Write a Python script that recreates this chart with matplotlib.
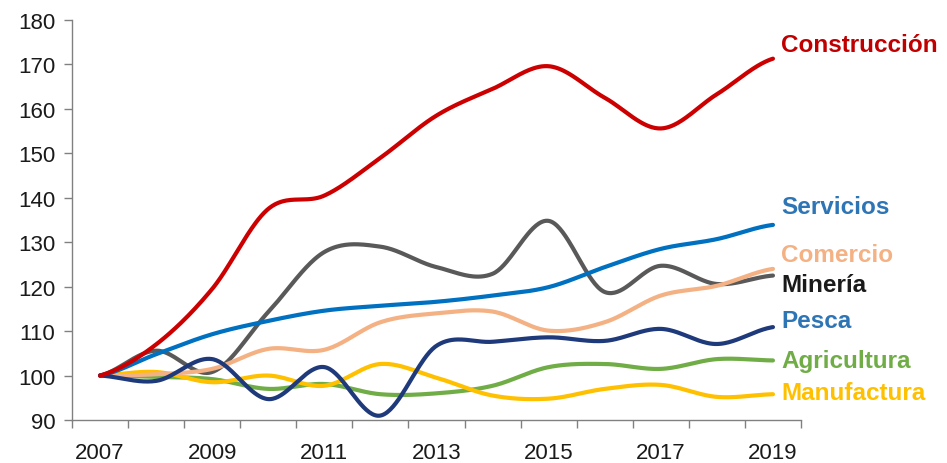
import numpy as np
import matplotlib
matplotlib.use("Agg")
import matplotlib.pyplot as plt
from matplotlib.ticker import FixedLocator, NullFormatter

plt.rcParams['font.family'] = ['Liberation Sans', 'DejaVu Sans']

years = list(range(2007, 2020))
tick_years = ["2007", "2009", "2011", "2013", "2015", "2017", "2019"]

construccion = [100, 107, 119.5, 137.5, 140.5, 149, 158.5, 164.5, 169.6, 162.5, 155.6, 163.3, 171.3]
servicios = [100, 104.8, 109.3, 112.3, 114.6, 115.7, 116.6, 118.0, 119.9, 124.4, 128.5, 130.7, 133.9]
comercio = [100, 100.3, 101.5, 106.0, 105.8, 112.0, 114.0, 114.4, 110.1, 112.0, 118.0, 120.2, 124.0]
mineria = [100, 105.6, 100.8, 114.3, 127.8, 129.0, 124.4, 122.9, 134.8, 118.8, 124.7, 120.6, 122.5]
pesca = [100, 98.8, 103.7, 94.7, 101.9, 91.0, 106.7, 107.6, 108.6, 107.8, 110.5, 107.1, 110.9]
agricultura = [100, 99.7, 99.2, 97.0, 98.1, 95.8, 96.0, 97.7, 101.9, 102.6, 101.5, 103.7, 103.4]
manufactura = [100, 100.8, 98.5, 100.0, 97.7, 102.6, 99.5, 95.5, 94.8, 97.0, 97.9, 95.2, 95.8]

series = [
    ("Agricultura", agricultura, "#70AD47", "#70AD47", 362),
    ("Manufactura", manufactura, "#FFC000", "#FFC000", 394),
    ("Minería", mineria, "#595959", "#1A1A1A", 286),
    ("Comercio", comercio, "#F4B183", "#F4B183", 256),
    ("Servicios", servicios, "#0070C0", "#2E75B6", 208),
    ("Pesca", pesca, "#1F3A7A", "#2E75B6", 322),
    ("Construcción", construccion, "#CC0000", "#C00000", 46),
]


def smooth(y, n=40):
    """Catmull-Rom spline through the points (category positions 0..N-1)."""
    y = np.asarray(y, dtype=float)
    x = np.arange(len(y), dtype=float)
    p = np.concatenate([[y[0]], y, [y[-1]]])
    xs, ys = [], []
    for i in range(len(y) - 1):
        p0, p1, p2, p3 = p[i], p[i + 1], p[i + 2], p[i + 3]
        t = np.linspace(0, 1, n, endpoint=(i == len(y) - 2))
        yy = 0.5 * ((2 * p1) + (-p0 + p2) * t + (2 * p0 - 5 * p1 + 4 * p2 - p3) * t ** 2
                    + (-p0 + 3 * p1 - 3 * p2 + p3) * t ** 3)
        xs.append(x[i] + t)
        ys.append(yy)
    return np.concatenate(xs), np.concatenate(ys)


fig = plt.figure(figsize=(9.47, 4.64), dpi=100)
ax = fig.add_axes([72 / 947, 1 - 421 / 464, (801 - 72) / 947, (421 - 21) / 464])

for name, vals, lc, tc, ypix in series:
    xs, ys = smooth(vals)
    ax.plot(xs, ys, color=lc, lw=3.0, solid_capstyle='round', zorder=3)
    fig.text(781 / 947, 1 - ypix / 464, name, color=tc, fontsize=17.5, fontweight='bold',
             va='center', ha='left')

ax.set_xlim(-0.5, len(years) - 0.5)
ax.set_ylim(90, 180)
ax.set_yticks(np.arange(90, 181, 10))

# Category axis: tick marks on the boundaries, labels on every other category
ax.xaxis.set_major_locator(FixedLocator(np.arange(-0.5, len(years), 1.0)))
ax.xaxis.set_major_formatter(NullFormatter())
ax.xaxis.set_minor_locator(FixedLocator([years.index(int(t)) for t in tick_years]))
ax.set_xticklabels(tick_years, minor=True)
ax.tick_params(axis='x', which='major', length=6, width=1, color='#808080', direction='out')
ax.tick_params(axis='x', which='minor', length=0, pad=16, labelsize=16, labelcolor='#1A1A1A')
ax.tick_params(axis='y', length=6, width=1, color='#808080', direction='out', pad=6,
               labelsize=16, labelcolor='#1A1A1A')

for s in ['top', 'right']:
    ax.spines[s].set_visible(False)
for s in ['left', 'bottom']:
    ax.spines[s].set_color('#808080')
    ax.spines[s].set_linewidth(1)

fig.savefig("out.png", dpi=100, facecolor='white')
